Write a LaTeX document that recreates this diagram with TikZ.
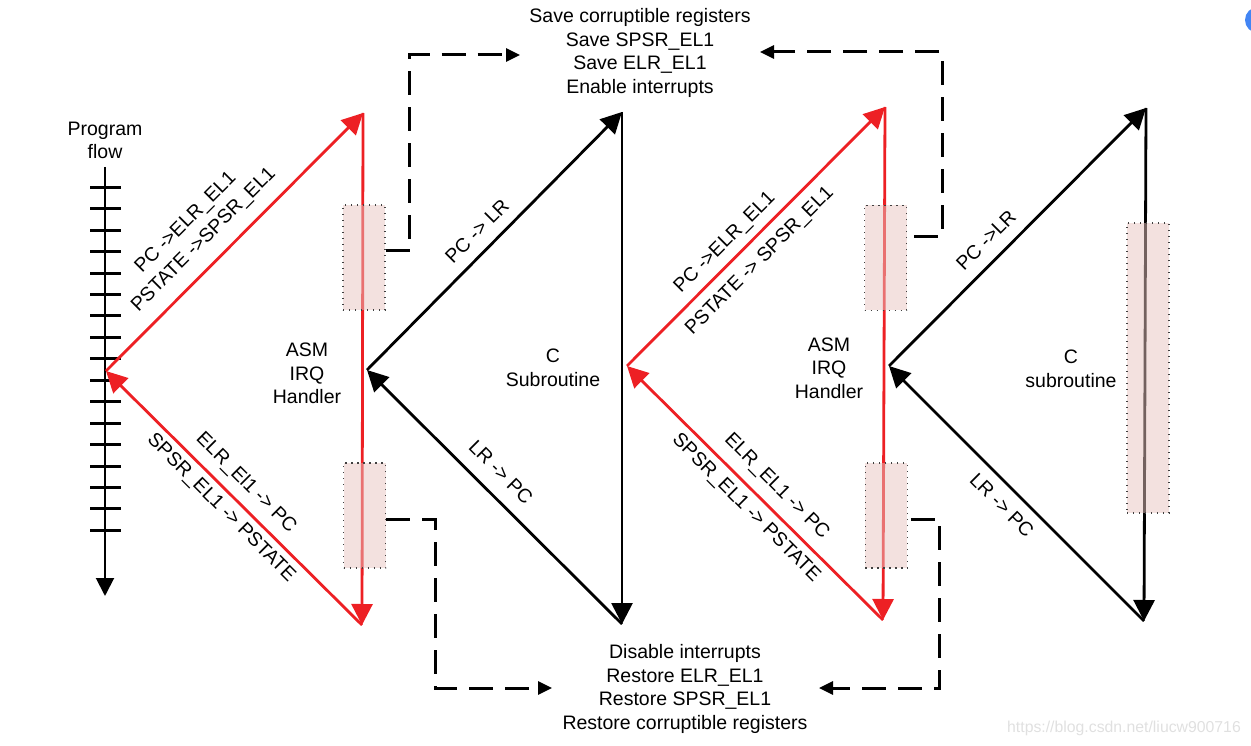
\documentclass[tikz,border=0pt]{standalone}
\usepackage{fontspec}
\setmainfont{Liberation Sans}
\usetikzlibrary{arrows.meta,calc}
\definecolor{myred}{RGB}{237,32,36}
\definecolor{boxpink}{RGB}{231,195,191}
\definecolor{gblue}{RGB}{66,133,244}
\begin{document}
\begin{tikzpicture}[x=1pt,y=-1pt,
  every node/.style={font=\fontsize{19.5}{23.5}\selectfont, inner sep=0pt},
  redarrow/.style={draw=myred, line width=2.8pt, -{Triangle[length=21pt,width=21pt]}},
  blackarrow/.style={draw=black, line width=2.8pt, -{Triangle[length=21pt,width=21pt]}},
  dasharrow/.style={draw=black, line width=3pt, dash pattern=on 24pt off 12pt, -{Triangle[length=14pt,width=13pt]}},
  pinkbox/.style={draw=black!75, line width=1.2pt, dash pattern=on 1.2pt off 4.8pt, fill=boxpink, fill opacity=0.5, minimum width=42pt, minimum height=105pt, inner sep=0pt},
  flowtick/.style={line width=3pt},
  lbl/.style={align=center}
]
\useasboundingbox (0,0) rectangle (1251,746);

% program flow
\node[lbl] (pflabel) at (105,140.5) {Program\\flow};
\coordinate (pftop) at (105,167);
\coordinate (pfbot) at (105,596);
\draw[line width=2pt, -{Triangle[length=18pt,width=18pt]}] (pftop) -- (pfbot);
\foreach \i in {0,...,16} {
  \draw[flowtick] (90,187.3+21.44*\i) -- (121,187.3+21.44*\i);
}

% triangle vertices
\coordinate (r1a) at (106,371);
\coordinate (r1t) at (363,113);
\coordinate (r1b) at (362,625);
\coordinate (k1a) at (367,370);
\coordinate (k1t) at (622,112);
\coordinate (k1b) at (622,624);
\coordinate (r2a) at (627,366);
\coordinate (r2t) at (885,107);
\coordinate (r2b) at (883,620);
\coordinate (k2a) at (889,366);
\coordinate (k2t) at (1146,108);
\coordinate (k2b) at (1144,621);

% red 1
\draw[redarrow] (r1a) -- (r1t);
\draw[redarrow] (r1t) -- (r1b);
\draw[redarrow] (r1b) -- (r1a);
% black 1
\draw[blackarrow] (k1a) -- (k1t);
\draw[blackarrow] (k1t) -- (k1b);
\draw[blackarrow] (k1b) -- (k1a);
% red 2
\draw[redarrow] (r2a) -- (r2t);
\draw[redarrow] (r2t) -- (r2b);
\draw[redarrow] (r2b) -- (r2a);
% black 2
\draw[blackarrow] (k2a) -- (k2t);
\draw[blackarrow] (k2t) -- (k2b);
\draw[blackarrow] (k2b) -- (k2a);

% pink boxes
\node[pinkbox] (b1) at (364,257.5) {};
\node[pinkbox] (b2) at (364.5,515.5) {};
\node[pinkbox] (bA) at (885.5,257.7) {};
\node[pinkbox] (bB) at (886.3,515.5) {};
\node[pinkbox, minimum height=290pt] (bT) at (1148,368) {};

% text blocks
\node[lbl] (savetxt) at (640,53) {Save corruptible registers\\Save SPSR\_EL1\\Save ELR\_EL1\\Enable interrupts};
\node[lbl] (resttxt) at (685,689) {Disable interrupts\\Restore ELR\_EL1\\Restore SPSR\_EL1\\Restore corruptible registers};
\node[lbl] (asm1) at (307,373.5) {ASM\\IRQ\\Handler};
\node[lbl] (csub1) at (553,368) {C\\Subroutine};
\node[lbl] (asm2) at (829,368) {ASM\\IRQ\\Handler};
\node[lbl] (csub2) at (1071,369) {C\\subroutine};

% diagonal labels
\node[rotate=45] (l1) at (186,223) {PC ->ELR\_EL1};
\node[rotate=45] (l2) at (204,240) {PSTATE ->SPSR\_EL1};
\node[rotate=-45] (l3) at (246,483) {ELR\_El1 -> PC};
\node[rotate=-45] (l4) at (221,508) {SPSR\_EL1 -> PSTATE};
\node[rotate=45] (l5) at (477,231) {PC -> LR};
\node[rotate=-45] (l6) at (501,472) {LR -> PC};
\node[rotate=45] (l7) at (725,243) {PC ->ELR\_EL1};
\node[rotate=45] (l8) at (760,261) {PSTATE -> SPSR\_EL1};
\node[rotate=-45] (l9) at (776.5,486.5) {ELR\_EL1 -> PC};
\node[rotate=-45] (l10) at (746,508) {SPSR\_EL1 -> PSTATE};
\node[rotate=45] (l11) at (986,240) {PC ->LR};
\node[rotate=-45] (l12) at (1002,505) {LR -> PC};

% dashed connectors
\coordinate (saveL) at (520,55);
\coordinate (saveR) at (760,52);
\coordinate (restL) at (552,688);
\coordinate (restR) at (819,688);
\draw[dasharrow] ([yshift=6.5pt]b1.east) -- ++(24,0) |- (saveL);
\draw[dasharrow] ([xshift=7pt,yshift=20.7pt]bA.east) -- ++(28,0) |- (saveR);
\draw[dasharrow] ([yshift=-3.5pt]b2.east) -- ++(49,0) |- (restL);
\draw[dasharrow] ([xshift=3pt,yshift=-3.5pt]bB.east) -- ++(29,0) |- (restR);

% watermark and corner mark
\node[font=\fontsize{15.8}{18}\selectfont, text=black!12] (wm) at (1124,728) {https://blog.csdn.net/liucw900716};
\fill[gblue] (1258,20) circle (13);
\end{tikzpicture}
\end{document}
